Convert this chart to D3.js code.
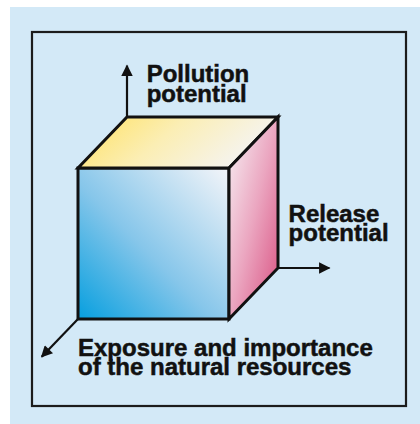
<!DOCTYPE html>
<html>
<head>
<meta charset="utf-8">
<script src="https://cdn.jsdelivr.net/npm/d3@7"></script>
<style>
  html, body { margin: 0; padding: 0; background: #fff; }
  svg { display: block; }
  text { font-family: "Liberation Sans", Arial, sans-serif; font-weight: bold; font-size: 24px;
         fill: #111; stroke: #111; stroke-width: 0.5px; }
</style>
</head>
<body>
<script>
// cube in unit coordinates: x = width, z = height, d = depth (oblique)
const cubeFaces = ["front", "top", "side"];
const faceCorners = [
  [[0, 0, 0], [1, 0, 0], [1, 1, 0], [0, 1, 0]],   // front
  [[0, 1, 0], [1, 1, 0], [1, 1, 1], [0, 1, 1]],   // top
  [[1, 0, 0], [1, 0, 1], [1, 1, 1], [1, 1, 0]]    // side
];
// axis arrows: start and end in the same unit coordinates
const axisStart = [[0, 1, 1], [1, 0, 1], [0, 0, 0]];
const axisEnd   = [[0, 1.34, 1], [1.34, 0, 1], [0, 0, -0.74]];
const axisLabels = [
  ["Pollution", "potential"],
  ["Release", "potential"],
  ["Exposure and importance", "of the natural resources"]
];
const labelAnchor = [[0.13, 1.23, 1], [1.07, 0.305, 1], [0, -0.245, 0]];

const W = 420, H = 424;
const svg = d3.select("body").append("svg").attr("width", W).attr("height", H);

// scales for the oblique projection
const xScale = d3.scaleLinear().domain([0, 1]).range([78, 229]);
const zScale = d3.scaleLinear().domain([0, 1]).range([319, 168]);
const dxScale = d3.scaleLinear().domain([0, 1]).range([0, 49]);
const dyScale = d3.scaleLinear().domain([0, 1]).range([0, -51]);
const proj = p => [xScale(p[0]) + dxScale(p[2]), zScale(p[1]) + dyScale(p[2])];

const defs = svg.append("defs");
const grads = {
  front: { x1: 0, y1: 1, x2: 1, y2: 0, stops: [[0, "#069fdf"], [0.45, "#86c6ea"], [1, "#f4f5f9"]] },
  top:   { x1: 0, y1: 0, x2: 1, y2: 0.3, stops: [[0, "#ffe160"], [0.5, "#fbeeb4"], [1, "#f5f4f2"]] },
  side:  { x1: 0, y1: 0, x2: 1, y2: 1, stops: [[0, "#f7f3f6"], [0.5, "#eba6c0"], [1, "#d94f80"]] }
};
cubeFaces.forEach(f => {
  const g = grads[f];
  const lg = defs.append("linearGradient").attr("id", "g-" + f)
    .attr("x1", g.x1).attr("y1", g.y1).attr("x2", g.x2).attr("y2", g.y2);
  g.stops.forEach(s => lg.append("stop").attr("offset", s[0]).attr("stop-color", s[1]));
});
defs.append("marker").attr("id", "arrow")
  .attr("viewBox", "0 0 10 10").attr("refX", 9).attr("refY", 5)
  .attr("markerWidth", 6).attr("markerHeight", 5.2).attr("markerUnits", "strokeWidth")
  .attr("orient", "auto")
  .append("path").attr("d", "M0,0 L10,5 L0,10 Z").attr("fill", "#111");

// background and frame
svg.append("rect").attr("x", 10).attr("y", 7).attr("width", W - 10).attr("height", H - 7)
  .attr("fill", "#d3e9f7");
svg.append("rect").attr("x", 32).attr("y", 32).attr("width", 374).attr("height", 374)
  .attr("fill", "none").attr("stroke", "#1c1c1c").attr("stroke-width", 2.2);

// axis arrows
svg.selectAll("line.axis").data(axisStart).enter().append("line")
  .attr("class", "axis")
  .attr("x1", d => proj(d)[0]).attr("y1", d => proj(d)[1])
  .attr("x2", (d, i) => proj(axisEnd[i])[0]).attr("y2", (d, i) => proj(axisEnd[i])[1])
  .attr("stroke", "#111").attr("stroke-width", 2.2)
  .attr("marker-end", "url(#arrow)");

// cube faces
const line = d3.line();
svg.selectAll("path.face").data(faceCorners).enter().append("path")
  .attr("class", "face")
  .attr("d", d => line(d.map(proj)) + "Z")
  .attr("fill", (d, i) => "url(#g-" + cubeFaces[i] + ")")
  .attr("stroke", "#111").attr("stroke-width", 3).attr("stroke-linejoin", "miter");

// labels
axisLabels.forEach((lines, i) => {
  const p = proj(labelAnchor[i]);
  const t = svg.append("text").attr("x", p[0]).attr("y", p[1]);
  lines.forEach((s, j) => t.append("tspan").attr("x", p[0]).attr("dy", j ? 19.5 : 0).text(s));
});
</script>
</body>
</html>
